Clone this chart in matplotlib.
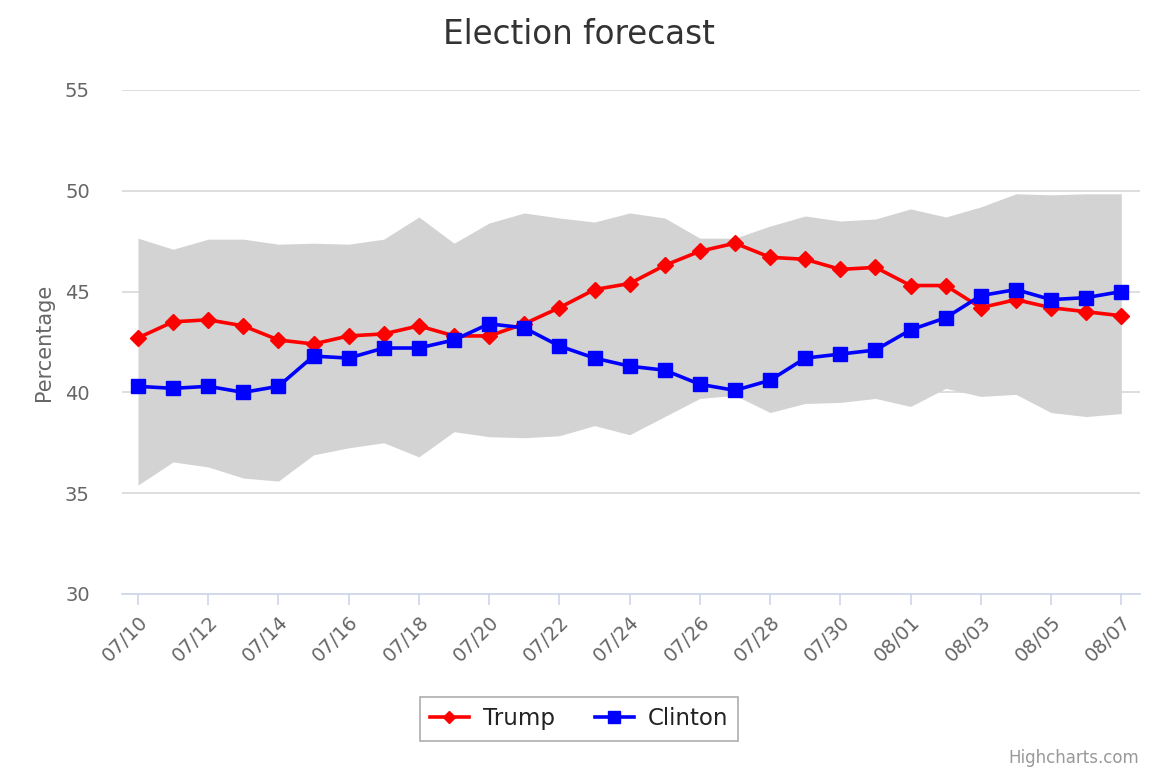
import matplotlib
matplotlib.use('Agg')
import matplotlib.pyplot as plt
import numpy as np

# dates 07/10 .. 08/07
dates = ['07/10', '07/11', '07/12', '07/13', '07/14', '07/15', '07/16', '07/17',
         '07/18', '07/19', '07/20', '07/21', '07/22', '07/23', '07/24', '07/25',
         '07/26', '07/27', '07/28', '07/29', '07/30', '07/31', '08/01', '08/02',
         '08/03', '08/04', '08/05', '08/06', '08/07']

trump = [42.7, 43.5, 43.6, 43.3, 42.6, 42.4, 42.8, 42.9, 43.3, 42.8,
         42.8, 43.4, 44.2, 45.1, 45.4, 46.3, 47.0, 47.4, 46.7, 46.6,
         46.1, 46.2, 45.3, 45.3, 44.2, 44.6, 44.2, 44.0, 43.8]

clinton = [40.3, 40.2, 40.3, 40.0, 40.3, 41.8, 41.7, 42.2, 42.2, 42.6,
           43.4, 43.2, 42.3, 41.7, 41.3, 41.1, 40.4, 40.1, 40.6, 41.7,
           41.9, 42.1, 43.1, 43.7, 44.8, 45.1, 44.6, 44.7, 45.0]

band_high = [47.65, 47.1, 47.6, 47.6, 47.35, 47.4, 47.35, 47.6, 48.7, 47.4,
             48.4, 48.9, 48.65, 48.45, 48.9, 48.65, 47.65, 47.65, 48.25, 48.75,
             48.5, 48.6, 49.1, 48.7, 49.2, 49.85, 49.8, 49.85, 49.85]

band_low = [35.4, 36.55, 36.3, 35.75, 35.6, 36.9, 37.25, 37.5, 36.8, 38.05,
            37.8, 37.75, 37.85, 38.35, 37.9, 38.8, 39.7, 39.85, 39.0, 39.45,
            39.5, 39.7, 39.3, 40.2, 39.8, 39.9, 39.0, 38.8, 38.95]

x = np.arange(len(dates))

fig = plt.figure(figsize=(11.6, 7.73), dpi=100)
ax = fig.add_axes([0.105, 0.2316, 0.878, 0.652])

ax.fill_between(x, band_low, band_high, color='#d3d3d3', linewidth=0, zorder=1)
ax.plot(x, trump, color='#ff0000', linewidth=2.6, marker='D', markersize=8,
        label='Trump', zorder=3)
ax.plot(x, clinton, color='#0000ff', linewidth=2.6, marker='s', markersize=10,
        label='Clinton', zorder=3)

ax.set_xlim(-0.46, 28.54)
ax.set_ylim(30, 55)
ax.set_yticks([30, 35, 40, 45, 50, 55])
ax.yaxis.grid(True, color='#d8d8d8', linewidth=1.2, zorder=0)
ax.set_axisbelow(True)
for s in ['top', 'right', 'left']:
    ax.spines[s].set_visible(False)
ax.spines['bottom'].set_color('#ccd6eb')
ax.spines['bottom'].set_linewidth(1.2)
ax.tick_params(axis='y', length=0, pad=23, labelsize=14, labelcolor='#666666')
ax.tick_params(axis='x', length=8, width=1.2, color='#ccd6eb', labelsize=14,
               labelcolor='#666666', pad=5)
ax.set_xticks(x[::2])
ax.set_xticklabels(dates[::2], rotation=45, ha='right', rotation_mode='anchor')

ax.set_ylabel('Percentage', fontsize=15, color='#666666', labelpad=8)
fig.text(0.499, 0.955, 'Election forecast', ha='center', va='center',
         fontsize=23.5, color='#333333')

leg = fig.legend(loc='center', bbox_to_anchor=(0.499, 0.0699), ncol=2,
                 frameon=True, fancybox=False, fontsize=16.5, handlelength=1.7,
                 columnspacing=1.75, borderpad=0.45, handletextpad=0.6,
                 markerscale=0.8)
leg.get_frame().set_edgecolor('#999999')
leg.get_frame().set_linewidth(1.2)
for t in leg.get_texts():
    t.set_color('#222222')

fig.text(0.982, 0.02, 'Highcharts.com', ha='right', va='center',
         fontsize=12, color='#999999')

fig.savefig('out.png', dpi=100)
